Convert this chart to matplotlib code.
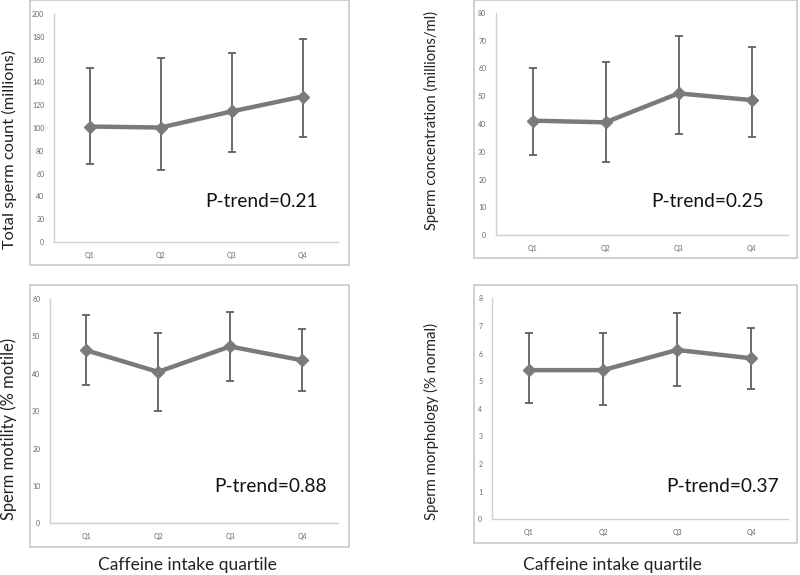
import matplotlib
matplotlib.use("Agg")
import matplotlib.pyplot as plt
from matplotlib.patches import Rectangle

plt.rcParams['font.family'] = ['Lato', 'DejaVu Sans']

quartiles = ["Q1", "Q2", "Q3", "Q4"]

count_mean = [101.3, 100.4, 114.5, 127.6]
count_low = [68.0, 62.8, 79.1, 92.0]
count_high = [152.4, 161.2, 166.1, 178.4]

conc_mean = [41.2, 40.6, 51.0, 48.6]
conc_low = [28.9, 26.5, 36.4, 35.4]
conc_high = [60.0, 62.3, 71.5, 67.8]

motil_mean = [46.3, 40.5, 47.3, 43.6]
motil_low = [37.1, 30.1, 38.1, 35.3]
motil_high = [55.6, 50.9, 56.5, 51.9]

morph_mean = [5.40, 5.40, 6.13, 5.83]
morph_low = [4.22, 4.13, 4.83, 4.73]
morph_high = [6.73, 6.73, 7.45, 6.92]

W, H = 800, 575
fig = plt.figure(figsize=(W / 100, H / 100), dpi=100)
renderer = fig.canvas.get_renderer()


def px_rect(x0, y0, x1, y1):
    return [x0 / W, 1 - y1 / H, (x1 - x0) / W, (y1 - y0) / H]


def fig_xy(x, y):
    return x / W, 1 - y / H


def fit_text(t, length_px, vertical=False):
    # scale the font so the text runs about length_px pixels long
    bb = t.get_window_extent(renderer)
    cur = bb.height if vertical else bb.width
    t.set_fontsize(t.get_fontsize() * length_px / cur)


panels = [
    # data, ymax, ystep, axes box, outer box, ylabel, ylabel pos+length, p-text, p pos
    (count_mean, count_low, count_high, 200, 20, (54, 14, 338, 242), (30, 0, 349, 265),
     "Total sperm count (millions)", (9, 149, 198), "P-trend=0.21", (262, 202)),
    (conc_mean, conc_low, conc_high, 80, 10, (496, 12.7, 788, 235.3), (474, 0, 797, 258),
     "Sperm concentration (millions/ml)", (431, 121, 218), "P-trend=0.25", (708, 202)),
    (motil_mean, motil_low, motil_high, 60, 10, (50, 299, 338, 523.3), (30, 285, 349, 547),
     "Sperm motility (% motile)", (9, 429, 182), "P-trend=0.88", (270, 487)),
    (morph_mean, morph_low, morph_high, 8, 1, (492, 298.3, 788, 519.3), (474, 285, 797, 543),
     "Sperm morphology (% normal)", (431, 421, 197), "P-trend=0.37", (723, 487)),
]

for (mean, low, high, ymax, ystep, abox, obox, ylab, ylpos, ptxt, ppos) in panels:
    # outer chart border
    ox0, oy0, ox1, oy1 = obox
    fig.patches.append(Rectangle((ox0 / W, 1 - oy1 / H), (ox1 - ox0) / W, (oy1 - oy0) / H,
                                 transform=fig.transFigure, fill=False,
                                 edgecolor="#c8c8c8", linewidth=1.2))

    ax = fig.add_axes(px_rect(*abox))
    x = list(range(len(quartiles)))
    yerr = [[m - l for m, l in zip(mean, low)], [h - m for m, h in zip(mean, high)]]
    ax.errorbar(x, mean, yerr=yerr, fmt="none", ecolor="#606060",
                elinewidth=1.3, capsize=3, capthick=1.3, zorder=2)
    ax.plot(x, mean, color="#7a7a7a", linewidth=3.2, marker="D",
            markersize=6, markerfacecolor="#7a7a7a", markeredgecolor="#7a7a7a", zorder=3)

    ax.set_xlim(-0.5, len(quartiles) - 0.5)
    ax.set_ylim(0, ymax)
    ax.set_yticks([v * ystep for v in range(int(ymax / ystep) + 1)])
    ax.set_xticks(x)
    ax.set_xticklabels(quartiles)
    ax.tick_params(length=0, labelsize=5, colors="#666666", pad=7)
    for s in ["top", "right"]:
        ax.spines[s].set_visible(False)
    for s in ["left", "bottom"]:
        ax.spines[s].set_color("#d0d0d0")
        ax.spines[s].set_linewidth(1.0)

    t = fig.text(*fig_xy(ylpos[0], ylpos[1]), ylab, rotation=90, ha="center", va="center",
                 fontsize=12, color="#222222")
    fit_text(t, ylpos[2], vertical=True)
    fig.text(*fig_xy(*ppos), ptxt, ha="center", va="center",
             fontsize=13.8, color="#111111")

fig.text(*fig_xy(187, 565), "Caffeine intake quartile", ha="center", va="center",
         fontsize=12.5, color="#222222")
fig.text(*fig_xy(612, 565), "Caffeine intake quartile", ha="center", va="center",
         fontsize=12.5, color="#222222")

fig.savefig("out.png", dpi=100)
plt.close(fig)
